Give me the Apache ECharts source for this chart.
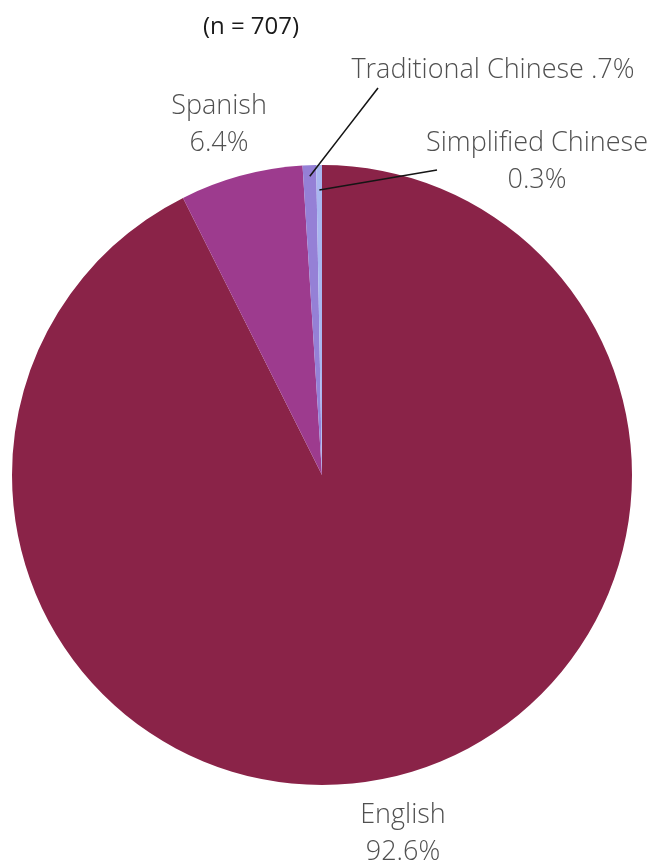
<!DOCTYPE html>
<html>
<head>
<meta charset="utf-8">
<script src="https://cdn.jsdelivr.net/npm/echarts@6/dist/echarts.min.js"></script>
<style>
  html, body { margin: 0; padding: 0; background: #ffffff; }
  #chart { width: 653px; height: 867px; }
</style>
</head>
<body>
<div id="chart"></div>
<script>
// Survey language breakdown
const languages = ['English', 'Spanish', 'Traditional Chinese', 'Simplified Chinese'];
const shares = [92.6, 6.4, 0.7, 0.3];
const labelTexts = ['English\n92.6%', 'Spanish\n6.4%', 'Traditional Chinese .7%', 'Simplified Chinese\n0.3%'];
const sliceColors = ['#8a2348', '#9d3b8e', '#9580d6', '#a9b6f0'];
const subtitle = '(n = 707)';

// label placement; leader lines run from a point just inside the slice to the label
const labelSpots = [
  { x: 403, y: 834, line: null },
  { x: 219, y: 125, line: null },
  { x: 493, y: 70, line: { inset: 11, end: [378, 88] } },
  { x: 537, y: 162, line: { inset: 25, end: [437, 170] } }
];

const pieCenter = [322, 475];
const pieRadius = 310;

const chart = echarts.init(document.getElementById('chart'), null, { renderer: 'canvas' });

const fontFamily = '"Open Sans", "Noto Sans", sans-serif';

const baseData = languages.map((name, i) => ({ name, value: shares[i] }));

chart.setOption({
  animation: false,
  title: {
    text: subtitle,
    left: 246,
    top: 10,
    textAlign: 'center',
    textStyle: { fontFamily, fontSize: 24, fontWeight: 'normal', color: '#1a1a1a' }
  },
  series: [
    {
      // the filled slices
      type: 'pie',
      z: 2,
      center: pieCenter,
      radius: [0, pieRadius],
      startAngle: 90,
      clockwise: true,
      silent: true,
      itemStyle: { borderWidth: 0 },
      label: { show: false },
      labelLine: { show: false },
      data: baseData.map((d, i) => ({ ...d, itemStyle: { color: sliceColors[i] } }))
    },
    {
      // labels and leader lines, layered above the slices
      type: 'pie',
      z: 4,
      center: pieCenter,
      radius: [0, pieRadius],
      startAngle: 90,
      clockwise: true,
      silent: true,
      avoidLabelOverlap: false,
      itemStyle: { color: 'rgba(0,0,0,0)', borderWidth: 0 },
      label: {
        show: true,
        formatter: p => labelTexts[p.dataIndex],
        fontFamily,
        fontSize: 27,
        fontWeight: 300,
        lineHeight: 37,
        color: '#505050',
        align: 'center'
      },
      labelLine: { show: false, length: 10, length2: 10, lineStyle: { color: '#151515', width: 1.6 } },
      labelLayout: params => {
        const s = labelSpots[params.dataIndex];
        const out = { x: s.x, y: s.y, align: 'center', verticalAlign: 'middle', hideOverlap: false };
        if (s.line && params.labelLinePoints) {
          const edge = params.labelLinePoints[0];
          const dx = pieCenter[0] - edge[0], dy = pieCenter[1] - edge[1];
          const len = Math.hypot(dx, dy) || 1;
          const start = [edge[0] + dx / len * s.line.inset, edge[1] + dy / len * s.line.inset];
          const mid = [(start[0] + s.line.end[0]) / 2, (start[1] + s.line.end[1]) / 2];
          out.labelLinePoints = [start, mid, s.line.end];
        }
        return out;
      },
      data: baseData.map((d, i) => ({ ...d, labelLine: { show: !!labelSpots[i].line } }))
    }
  ]
});
</script>
</body>
</html>
